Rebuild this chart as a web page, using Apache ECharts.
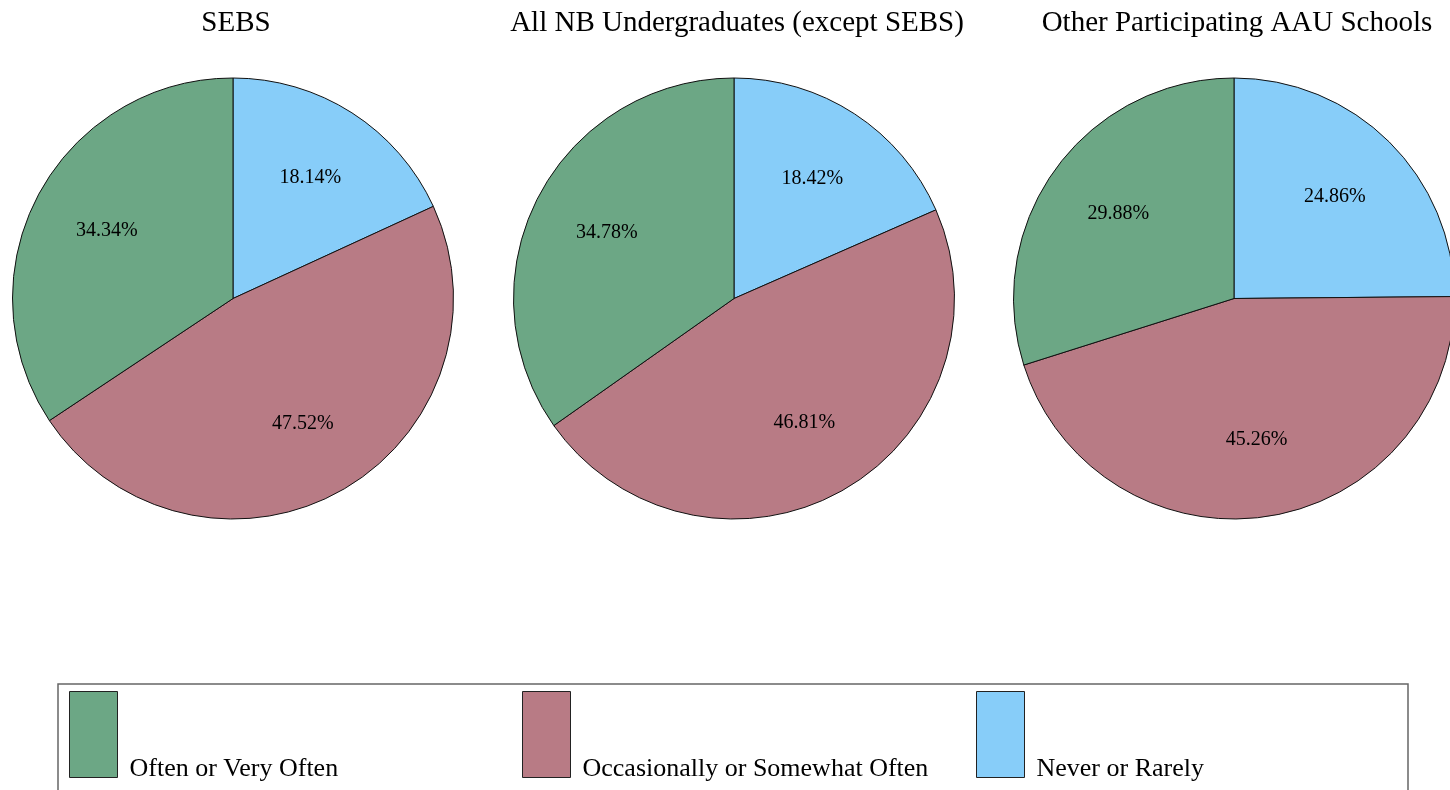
<!DOCTYPE html>
<html>
<head>
<meta charset="utf-8">
<script src="https://cdn.jsdelivr.net/npm/echarts@6/dist/echarts.min.js"></script>
<style>
  html, body { margin: 0; padding: 0; background: #fff; }
  #chart { width: 1450px; height: 790px; }
</style>
</head>
<body>
<div id="chart"></div>
<script>
// 数据
const groups = ["SEBS", "All NB Undergraduates (except SEBS)", "Other Participating AAU Schools"];
const categories = ["Never or Rarely", "Occasionally or Somewhat Often", "Often or Very Often"];
const legendOrder = ["Often or Very Often", "Occasionally or Somewhat Often", "Never or Rarely"];
const neverRarely = [18.14, 18.42, 24.86];
const occasionally = [47.52, 46.81, 45.26];
const oftenVery = [34.34, 34.78, 29.88];

const colors = {
  "Never or Rarely": "#87cdf9",
  "Occasionally or Somewhat Often": "#b87b85",
  "Often or Very Often": "#6ca785"
};

const FONT = "Liberation Serif";
const centersX = [233, 734, 1234];
const centerY = 298.5;
const R = 220.5;
const legendLeft = [69, 522, 976];

function sliceData(i, withColor) {
  const vals = [neverRarely[i], occasionally[i], oftenVery[i]];
  return categories.map((name, k) => {
    const d = { name: name, value: vals[k] };
    if (withColor) d.itemStyle = { color: colors[name] };
    return d;
  });
}

const series = [];
// 主饼图
groups.forEach((g, i) => {
  series.push({
    type: "pie",
    center: [centersX[i], centerY],
    radius: [0, R],
    startAngle: 90,
    clockwise: true,
    animation: false,
    silent: true,
    label: { show: false },
    labelLine: { show: false },
    itemStyle: { borderColor: "#111", borderWidth: 1 },
    emphasis: { disabled: true },
    data: sliceData(i, true)
  });
});
// 标签层（透明），把标签放在约 0.63 半径处
groups.forEach((g, i) => {
  series.push({
    type: "pie",
    center: [centersX[i], centerY],
    radius: [60, R],
    startAngle: 90,
    clockwise: true,
    animation: false,
    silent: true,
    label: {
      show: true,
      position: "inside",
      formatter: p => p.value.toFixed(2) + "%",
      fontFamily: FONT,
      fontSize: 20,
      color: "#000"
    },
    labelLine: { show: false },
    itemStyle: { color: "rgba(0,0,0,0)", borderWidth: 0, borderColor: "rgba(0,0,0,0)" },
    emphasis: { disabled: true },
    data: sliceData(i, false)
  });
});

// 图例：每项一个 legend，外框用 graphic 画
const legends = legendOrder.map((name, k) => ({
  data: [name],
  left: legendLeft[k],
  top: 691,
  padding: 0,
  itemWidth: 48,
  itemHeight: 86,
  icon: "rect",
  selectedMode: false,
  itemStyle: { borderColor: "#222", borderWidth: 1 },
  formatter: n => "{t|" + n + "}",
  textStyle: {
    fontFamily: FONT,
    fontSize: 26,
    color: "#000",
    rich: {
      t: { fontFamily: FONT, fontSize: 26, color: "#000", padding: [70, 0, 0, 7] }
    }
  }
}));

const chart = echarts.init(document.getElementById("chart"), null, { renderer: "canvas" });
chart.setOption({
  backgroundColor: "#fff",
  title: groups.map((g, i) => ({
    text: g,
    left: centersX[i] + 3,
    top: 9,
    padding: 0,
    textAlign: "center",
    textStyle: { fontFamily: FONT, fontSize: 29, fontWeight: "normal", color: "#000" }
  })),
  legend: legends,
  graphic: [{
    type: "rect",
    shape: { x: 58, y: 684, width: 1350, height: 140 },
    style: { fill: "none", stroke: "#666", lineWidth: 1.5 },
    silent: true
  }],
  series: series
});
</script>
</body>
</html>
